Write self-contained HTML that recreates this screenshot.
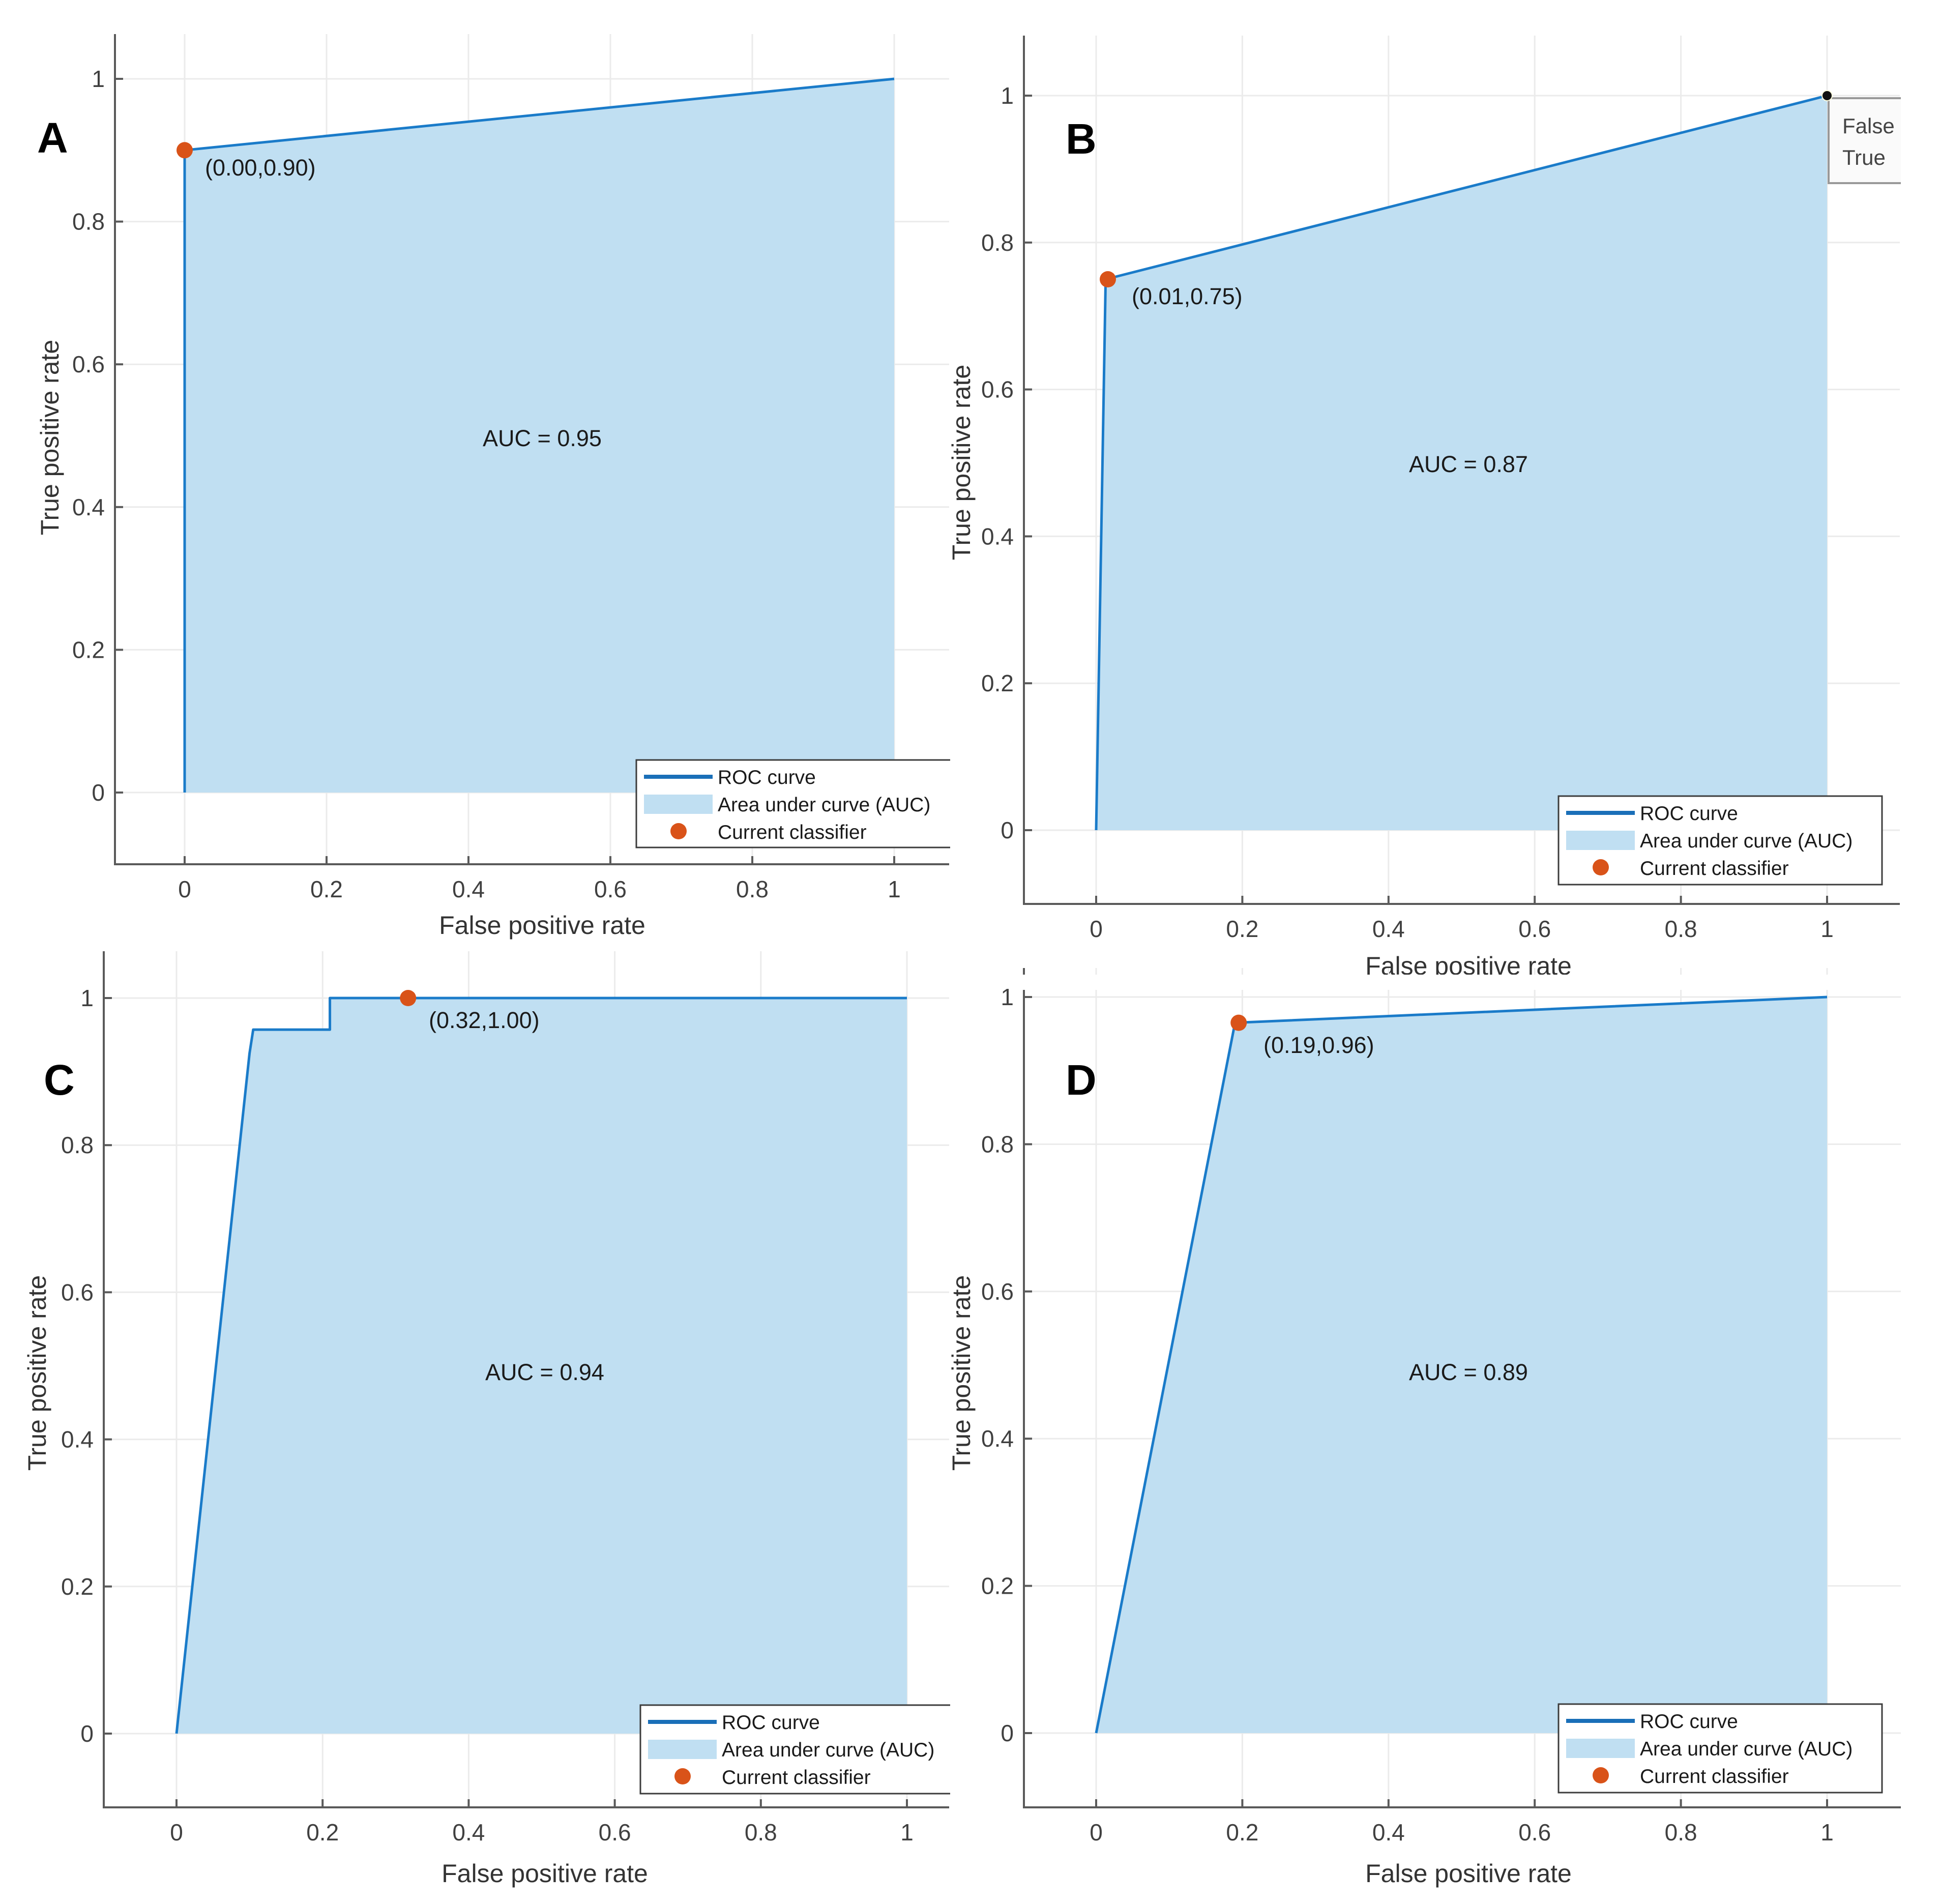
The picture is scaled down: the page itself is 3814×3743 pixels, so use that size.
<!DOCTYPE html>
<html><head><meta charset="utf-8"><style>
html,body{margin:0;padding:0;background:#fff;}
svg text{font-family:"Liberation Sans",Arial,sans-serif;}
</style></head>
<body>
<svg id="fig" xmlns="http://www.w3.org/2000/svg" width="3814" height="3738" viewBox="0 0 3814 3738"></svg>
<script>
// ---- data ----
const rocA_fpr = [0, 0, 1];
const rocA_tpr = [0, 0.90, 1];
const rocB_fpr = [0, 0.013, 1];
const rocB_tpr = [0, 0.75, 1];
const rocC_fpr = [0, 0.10, 0.105, 0.21, 0.21, 1];
const rocC_tpr = [0, 0.925, 0.957, 0.957, 1.0, 1.0];
const rocD_fpr = [0, 0.19, 1];
const rocD_tpr = [0, 0.965, 1];
const opA = [0.00, 0.90];
const opB = [0.016, 0.75];
const opC = [0.317, 1.00];
const opD = [0.195, 0.965];
const opLabels = ["(0.00,0.90)", "(0.01,0.75)", "(0.32,1.00)", "(0.19,0.96)"];
const aucLabels = ["AUC = 0.95", "AUC = 0.87", "AUC = 0.94", "AUC = 0.89"];
const panelLetters = ["A", "B", "C", "D"];
const xTicks = [0, 0.2, 0.4, 0.6, 0.8, 1];
const yTicks = [0, 0.2, 0.4, 0.6, 0.8, 1];
const tickLabels = ["0", "0.2", "0.4", "0.6", "0.8", "1"];

// ---- layout (pixel geometry, not data) ----
const layouts = [
 {x0:363, x1:1758, y0:1558, y1:155, L:226, R:1866, T:67, B:1699, leg:{x:1251,y:1494,w:640,h:172}, letter:[73,300], ytitle:[98,860], xtitle:[1066,1836], auc:[1066,877], lab:[403,345]},
 {x0:2155, x1:3592, y0:1632, y1:188, L:2013, R:3735, T:70, B:1777, leg:{x:3064,y:1565,w:636,h:174}, letter:[2095,302], ytitle:[1890,909], xtitle:[2887,1916], auc:[2887,928], lab:[2225,598]},
 {x0:347, x1:1783, y0:3408, y1:1962, L:204, R:1866, T:1870, B:3553, leg:{x:1259,y:3352,w:640,h:174}, letter:[86,2152], ytitle:[73,2699], xtitle:[1071,3700], auc:[1071,2713], lab:[843,2021]},
 {x0:2155, x1:3592, y0:3407, y1:1960, L:2013, R:3737, T:1903, B:3553, leg:{x:3064,y:3350,w:636,h:174}, letter:[2095,2152], ytitle:[1890,2699], xtitle:[2887,3700], auc:[2887,2713], lab:[2484,2070]}
];
const rocs = [[rocA_fpr,rocA_tpr],[rocB_fpr,rocB_tpr],[rocC_fpr,rocC_tpr],[rocD_fpr,rocD_tpr]];
const ops = [opA, opB, opC, opD];

const NS = "http://www.w3.org/2000/svg";
const svg = document.getElementById('fig');
function mk(tag, attrs, parent){
  const e = document.createElementNS(NS, tag);
  for (const k in attrs) e.setAttribute(k, attrs[k]);
  (parent||svg).appendChild(e);
  return e;
}
const names = ["a","b","c","d"];
const clipGroup = mk('g', {});


layouts.forEach((P, i) => {
  const g = mk('g', {}, clipGroup);
  
  
  const xs = v => P.x0 + v * (P.x1 - P.x0);
  const ys = v => P.y0 + v * (P.y1 - P.y0);
  xTicks.forEach(t => {
    const l = mk('line', {x1:xs(t), x2:xs(t), y1:P.T, y2:P.B, stroke:'#ebebeb', 'stroke-width':3}, g);
    
    
  });
  yTicks.forEach(t => {
    const l = mk('line', {x1:P.L, x2:P.R, y1:ys(t), y2:ys(t), stroke:'#ebebeb', 'stroke-width':3}, g);
    
    
  });
  const [fx, fy] = rocs[i];
  let pts = fx.map((v, k) => xs(v) + ',' + ys(fy[k]));
  const area = mk('polygon', {points: pts.join(' ') + ' ' + xs(fx[fx.length-1]) + ',' + ys(0) + ' ' + xs(fx[0]) + ',' + ys(0), fill:'#c0dff2'}, g);
  
  
  const line = mk('polyline', {points: pts.join(' '), fill:'none', stroke:'#1a7bc9', 'stroke-width':5, 'stroke-linejoin':'round'}, g);
  
  
  const ax = mk('path', {d:`M${P.L},${P.T} L${P.L},${P.B} L${P.R},${P.B}`, fill:'none', stroke:'#5a5a5a', 'stroke-width':4}, g);
  
  
  xTicks.forEach((t, k) => {
    const tk = mk('line', {x1:xs(t), x2:xs(t), y1:P.B, y2:P.B-16, stroke:'#5a5a5a', 'stroke-width':4}, g);
    
    
    const tx = mk('text', {x:xs(t), y:P.B+65, 'font-size':46, fill:'#404040', 'text-anchor':'middle'}, g);
    tx.textContent = tickLabels[k];
    
    
  });
  yTicks.forEach((t, k) => {
    const tk = mk('line', {x1:P.L, x2:P.L+16, y1:ys(t), y2:ys(t), stroke:'#5a5a5a', 'stroke-width':4}, g);
    
    
    const tx = mk('text', {x:P.L-20, y:ys(t)+16, 'font-size':46, fill:'#404040', 'text-anchor':'end'}, g);
    tx.textContent = tickLabels[k];
    
    
  });
  const op = ops[i];
  const dot = mk('circle', {cx:xs(op[0]), cy:ys(op[1]), r:16, fill:'#d95319'}, g);
  
  
  const lb = mk('text', {x:P.lab[0], y:P.lab[1], 'font-size':45, fill:'#1a1a1a'}, g);
  lb.textContent = opLabels[i];
  
  
  const au = mk('text', {x:P.auc[0], y:P.auc[1], 'font-size':45, fill:'#1a1a1a', 'text-anchor':'middle'}, g);
  au.textContent = aucLabels[i];
  
  
  const xt = mk('text', {x:P.xtitle[0], y:P.xtitle[1], 'font-size':50, fill:'#333', 'text-anchor':'middle'}, g);
  xt.textContent = 'False positive rate';
  
  
  const yt = mk('text', {x:0, y:0, 'font-size':50, fill:'#333', 'text-anchor':'middle', transform:`translate(${P.ytitle[0]+17},${P.ytitle[1]}) rotate(-90)`}, g);
  yt.textContent = 'True positive rate';
  
  
  const lt = mk('text', {x:P.letter[0], y:P.letter[1], 'font-size':84, 'font-weight':'bold', fill:'#000'}, g);
  lt.textContent = panelLetters[i];
  
  
  const lg = mk('g', {}, g);
  
  
  const Lx = P.leg.x, Ly = P.leg.y;
  mk('rect', {x:Lx, y:Ly, width:P.leg.w, height:P.leg.h, fill:'#fff', stroke:'#3c3c3c', 'stroke-width':3}, lg);
  mk('line', {x1:Lx+15, x2:Lx+150, y1:Ly+33, y2:Ly+33, stroke:'#1a6fb8', 'stroke-width':8}, lg);
  mk('rect', {x:Lx+15, y:Ly+68, width:135, height:38, fill:'#c0dff2'}, lg);
  mk('circle', {cx:Lx+83, cy:Ly+140, r:16, fill:'#d95319'}, lg);
  const rows = ['ROC curve', 'Area under curve (AUC)', 'Current classifier'];
  const rowNames = ['legend-entry-roc', 'legend-entry-auc', 'legend-entry-classifier'];
  rows.forEach((r, k) => {
    const t = mk('text', {x:Lx+160, y:Ly+47+k*54, 'font-size':39, fill:'#1a1a1a'}, lg);
    t.textContent = r;
    
    
  });
  // clip left-column legends at axis right edge
  if (i === 0 || i === 2) {
    const cl = mk('rect', {x:P.R+2, y:Ly-10, width:60, height:P.leg.h+20, fill:'#fff'}, g);
    
    
  }
});
// datatip in panel B
const dt = mk('g', {});


mk('rect', {x:3595, y:193, width:160, height:167, fill:'#fafafa', stroke:'#999', 'stroke-width':4}, dt);
const t1 = mk('text', {x:3622, y:262, 'font-size':42, fill:'#444'}, dt); t1.textContent = 'False';
const t2 = mk('text', {x:3622, y:324, 'font-size':42, fill:'#444'}, dt); t2.textContent = 'True';
mk('circle', {cx:3592, cy:188, r:10, fill:'#111', stroke:'#ffffe0', 'stroke-width':2}, dt);
const c1 = mk('rect', {x:3737, y:0, width:77, height:3738, fill:'#fff'});


const c2 = mk('rect', {x:1990, y:1916, width:1824, height:30, fill:'#fff'});


</script>
</body></html>
